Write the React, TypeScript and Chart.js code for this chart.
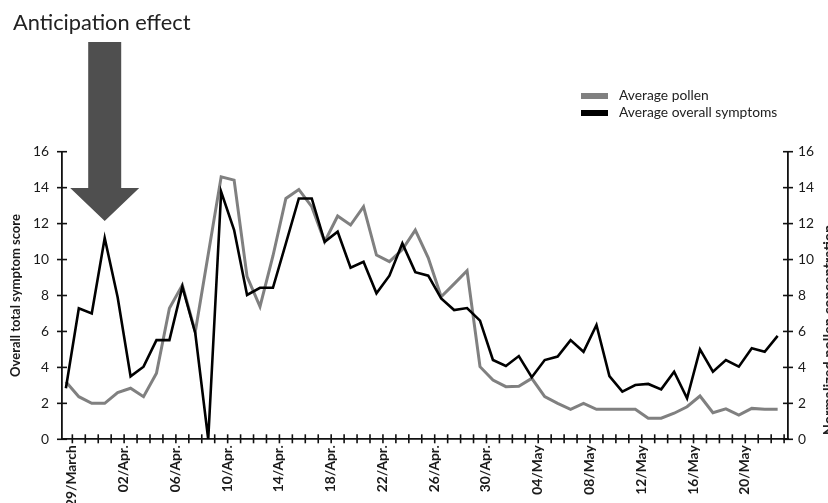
import React, { useEffect, useRef } from "react";
import { Chart, registerables } from "chart.js";

Chart.register(...registerables);

// Day index 0 = 29/March ... 55 = 23/May
const tickDays = [0, 4, 8, 12, 16, 20, 24, 28, 32, 36, 40, 44, 48, 52];
const tickLabels = [
  "29/March", "02/Apr.", "06/Apr.", "10/Apr.", "14/Apr.", "18/Apr.", "22/Apr.",
  "26/Apr.", "30/Apr.", "04/May", "08/May", "12/May", "16/May", "20/May",
];

const symptoms = [
  2.84, 7.29, 7.0, 11.2, 7.9, 3.5, 4.04, 5.52, 5.52, 8.49,
  5.9, 0, 13.77, 11.64, 8.03, 8.43, 8.43, 10.9, 13.4, 13.4,
  10.99, 11.55, 9.55, 9.88, 8.12, 9.1, 10.9, 9.3, 9.1, 7.84,
  7.19, 7.3, 6.6, 4.41, 4.08, 4.63, 3.45, 4.41, 4.6, 5.52,
  4.87, 6.36, 3.52, 2.65, 3.02, 3.08, 2.78, 3.76, 2.28, 5.0,
  3.76, 4.41, 4.04, 5.06, 4.87, 5.75,
];

const pollen = [
  3.2, 2.37, 2.0, 2.0, 2.6, 2.84, 2.37, 3.67, 7.29, 8.58,
  5.98, 10.3, 14.6, 14.42, 9.05, 7.38, 10.2, 13.4, 13.9, 12.94,
  10.99, 12.42, 11.92, 12.94, 10.25, 9.88, 10.56, 11.64, 10.1, 7.93,
  8.65, 9.38, 4.04, 3.3, 2.93, 2.95, 3.39, 2.37, 2.0, 1.67,
  2.0, 1.67, 1.67, 1.67, 1.67, 1.17, 1.17, 1.45, 1.81, 2.41,
  1.48, 1.69, 1.35, 1.72, 1.67, 1.67,
];

const yTicks = [0, 2, 4, 6, 8, 10, 12, 14, 16];

const seriesNames = ["Average pollen", "Average overall symptoms"];
const seriesColors = ["#808080", "#000000"];

const FONT = "Lato, 'Open Sans', sans-serif";
const W = 828;
const H = 503;
const AREA = { left: 62, right: 788, top: 151.7, bottom: 439.3 };

const decor = {
  id: "decor",
  afterDraw(chart: any) {
    const ctx = chart.ctx as CanvasRenderingContext2D;
    const xs = chart.scales.x;
    const ys = chart.scales.y;
    const ys1 = chart.scales.y1;
    ctx.save();
    const line = (x1: number, y1: number, x2: number, y2: number) => {
      ctx.beginPath();
      ctx.moveTo(x1, y1);
      ctx.lineTo(x2, y2);
      ctx.stroke();
    };
    ctx.strokeStyle = "#111";
    ctx.lineWidth = 1.6;
    yTicks.forEach((v) => {
      const p = ys.getPixelForValue(v);
      line(ys.right - 5, p, ys.right + 5, p);
      const p1 = ys1.getPixelForValue(v);
      line(ys1.left - 5, p1, ys1.left + 5, p1);
    });
    for (let k = 0; k < symptoms.length; k++) {
      const px = xs.getPixelForValue(k + 0.5);
      line(px, xs.top - 5, px, xs.top + 4);
    }

    // Legend
    const lx = 581;
    const rows = [96, 113];
    ctx.font = `13.8px ${FONT}`;
    ctx.textBaseline = "middle";
    ctx.textAlign = "left";
    seriesNames.forEach((name, i) => {
      ctx.fillStyle = seriesColors[i];
      ctx.fillRect(lx, rows[i] - 3, 27, 6);
      ctx.fillStyle = "#222";
      ctx.fillText(name, lx + 38, rows[i]);
    });

    // Annotation title
    ctx.fillStyle = "#222";
    ctx.font = `21.8px ${FONT}`;
    ctx.textBaseline = "alphabetic";
    ctx.fillText("Anticipation effect", 13, 30);

    // Arrow pointing at the anticipation peak
    const ax = xs.getPixelForValue(3);
    ctx.fillStyle = "#4f4f4f";
    ctx.beginPath();
    ctx.moveTo(ax - 16.5, 42);
    ctx.lineTo(ax + 16.5, 42);
    ctx.lineTo(ax + 16.5, 188);
    ctx.lineTo(ax + 34.5, 188);
    ctx.lineTo(ax, 221);
    ctx.lineTo(ax - 34.5, 188);
    ctx.lineTo(ax - 16.5, 188);
    ctx.closePath();
    ctx.fill();

    // Right axis title (reads bottom to top)
    ctx.save();
    ctx.translate(829.5, 330);
    ctx.rotate(-Math.PI / 2);
    ctx.font = `bold 14.5px ${FONT}`;
    ctx.fillStyle = "#222";
    ctx.textAlign = "center";
    ctx.textBaseline = "middle";
    ctx.fillText("Normalized pollen concentration", 0, 0);
    ctx.restore();

    ctx.restore();
  },
};

export default function App() {
  const ref = useRef<HTMLCanvasElement | null>(null);

  useEffect(() => {
    if (!ref.current) return;
    const chart = new Chart(ref.current, {
      type: "line",
      data: {
        datasets: [
          {
            label: seriesNames[1],
            data: symptoms.map((v, i) => ({ x: i, y: v })),
            borderColor: seriesColors[1],
            borderWidth: 2.6,
            pointRadius: 0,
            tension: 0,
            yAxisID: "y",
            order: 0,
          },
          {
            label: seriesNames[0],
            data: pollen.map((v, i) => ({ x: i, y: v })),
            borderColor: seriesColors[0],
            borderWidth: 3,
            pointRadius: 0,
            tension: 0,
            yAxisID: "y1",
            order: 1,
          },
        ],
      },
      options: {
        responsive: false,
        animation: false,
        devicePixelRatio: 1,
        layout: { padding: { top: AREA.top, left: 0, right: 0, bottom: 0 } },
        plugins: {
          legend: { display: false },
          tooltip: { enabled: false },
        },
        scales: {
          x: {
            type: "linear",
            min: -0.3,
            max: 55.8,
            afterBuildTicks: (s: any) => {
              s.ticks = tickDays.map((d) => ({ value: d }));
            },
            afterFit: (s: any) => {
              s.height = H - AREA.bottom;
            },
            grid: { display: true, drawOnChartArea: false, drawTicks: false },
            border: { display: true, color: "#111", width: 1.8 },
            ticks: {
              autoSkip: false,
              maxRotation: 90,
              minRotation: 90,
              padding: 6,
              labelOffset: 6,
              color: "#1a1a1a",
              font: { family: FONT, size: 13.8, weight: "bold" },
              callback: (v: any) => {
                const idx = tickDays.indexOf(Number(v));
                return idx >= 0 ? tickLabels[idx] : "";
              },
            },
          },
          y: {
            type: "linear",
            position: "left",
            min: 0,
            max: 16,
            afterBuildTicks: (s: any) => {
              s.ticks = yTicks.map((v) => ({ value: v }));
            },
            afterFit: (s: any) => {
              s.width = AREA.left;
            },
            grid: { display: true, drawOnChartArea: false, drawTicks: false },
            border: { display: true, color: "#111", width: 1.8 },
            ticks: {
              padding: 13,
              color: "#1a1a1a",
              font: { family: FONT, size: 13.8 },
            },
            title: {
              display: true,
              text: "Overall total symptom score",
              color: "#1a1a1a",
              font: { family: FONT, size: 13, weight: "bold" },
              padding: { top: 8, bottom: 0 },
            },
          },
          y1: {
            type: "linear",
            position: "right",
            min: 0,
            max: 16,
            afterBuildTicks: (s: any) => {
              s.ticks = yTicks.map((v) => ({ value: v }));
            },
            afterFit: (s: any) => {
              s.width = W - AREA.right;
            },
            grid: { display: true, drawOnChartArea: false, drawTicks: false },
            border: { display: true, color: "#111", width: 1.8 },
            ticks: {
              padding: 10,
              color: "#1a1a1a",
              font: { family: FONT, size: 13.8 },
            },
          },
        },
      },
      plugins: [decor],
    } as any);
    return () => chart.destroy();
  }, []);

  return (
    <div
      style={{
        position: "fixed",
        left: 0,
        top: 0,
        width: W,
        height: H,
        overflow: "hidden",
        background: "#fff",
      }}
    >
      <canvas ref={ref} width={W} height={H} style={{ width: W, height: H, display: "block" }} />
    </div>
  );
}
